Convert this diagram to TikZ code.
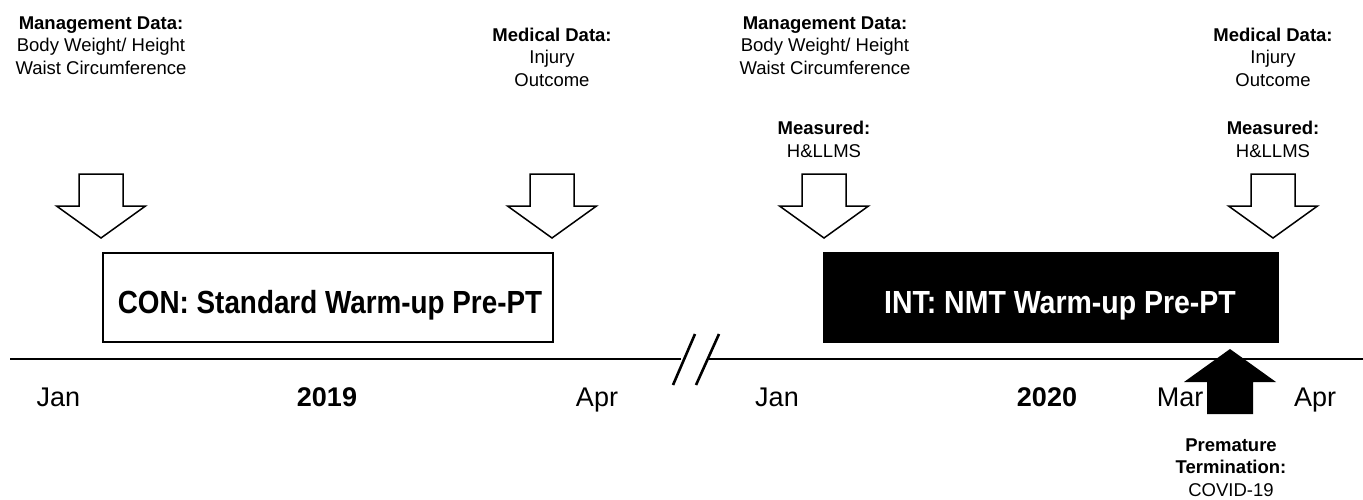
\documentclass[tikz,border=0pt]{standalone}
\usepackage{fontspec}
\usepackage{graphicx}
\setmainfont{Liberation Sans}
\tikzset{
  lbl/.style={font=\fontsize{18.5}{22.5}\selectfont, align=center, anchor=base, inner sep=0pt},
  mon/.style={font=\fontsize{27}{32}\selectfont, anchor=base, inner sep=0pt},
  yr/.style={font=\fontsize{27}{32}\selectfont\bfseries, anchor=base, inner sep=0pt},
  bigtxt/.style={font=\fontsize{32}{36}\selectfont\bfseries, anchor=base, inner sep=0pt},
  phase/.style={draw=black, line width=1.5pt, anchor=north west, inner sep=0pt},
  tline/.style={line width=2.8pt},
  downarr/.pic={\draw[line width=1.5pt, fill=white, line join=miter]
     (-22,0) -- (22,0) -- (22,32) -- (44.5,32) -- (0,64) -- (-44.5,32) -- (-22,32) -- cycle;},
}
\begin{document}
\begin{tikzpicture}[x=1pt,y=-1pt]
\useasboundingbox (0,0) rectangle (1363,499);

% top labels (anchor = baseline of last line)
\node[lbl] (mg1) at (101,74) {\textbf{Management Data:}\\Body Weight/ Height\\Waist Circumference};
\node[lbl] (md1) at (552,86) {\textbf{Medical Data:}\\Injury\\Outcome};
\node[lbl] (mg2) at (825,74) {\textbf{Management Data:}\\Body Weight/ Height\\Waist Circumference};
\node[lbl] (ms2) at (824,157) {\textbf{Measured:}\\H\&LLMS};
\node[lbl] (md2) at (1273,86) {\textbf{Medical Data:}\\Injury\\Outcome};
\node[lbl] (ms3) at (1273,157) {\textbf{Measured:}\\H\&LLMS};

% down arrows
\pic at (101,174) {downarr};
\pic at (552,174) {downarr};
\pic at (824,174) {downarr};
\pic at (1273,174) {downarr};

% phase boxes
\node[phase, fill=white, minimum width=450pt, minimum height=89pt] (con) at (102,252) {};
\node[bigtxt] (contxt) at (330,313) {\scalebox{0.87}[1]{CON: Standard Warm-up Pre-PT}};
\node[phase, fill=black, minimum width=454pt, minimum height=89pt] (int) at (823,252) {};
\node[bigtxt, text=white] (inttxt) at (1060,313) {\scalebox{0.89}[1]{INT: NMT Warm-up Pre-PT}};

% timeline
\coordinate (t0) at (10,359);
\coordinate (b1) at (681,359);
\coordinate (b2) at (709,359);
\coordinate (t1) at (1363,359);
\draw[tline] (t0) -- (b1);
\draw[tline] (b2) -- (t1);
\coordinate (s1a) at (673,385); \coordinate (s1b) at (695,334);
\coordinate (s2a) at (696,385); \coordinate (s2b) at (719,334);
\draw[line width=2.6pt] (s1a) -- (s1b);
\draw[line width=2.6pt] (s2a) -- (s2b);

% timeline labels
\node[mon] (jan1) at (58.5,406) {Jan};
\node[yr] (y19) at (327,406) {2019};
\node[mon] (apr1) at (597,406) {Apr};
\node[mon] (jan2) at (777,406) {Jan};
\node[yr] (y20) at (1047,406) {2020};
\node[mon] (mar2) at (1180,406) {Mar};
\node[mon] (apr2) at (1315,406) {Apr};

% termination arrow
\fill[black] (1207,414) -- (1207,382) -- (1184,382) -- (1230,349) -- (1276,382) -- (1253,382) -- (1253,414) -- cycle;
\node[lbl] (term) at (1231,496) {\textbf{Premature}\\\textbf{Termination:}\\COVID-19};
\end{tikzpicture}
\end{document}
